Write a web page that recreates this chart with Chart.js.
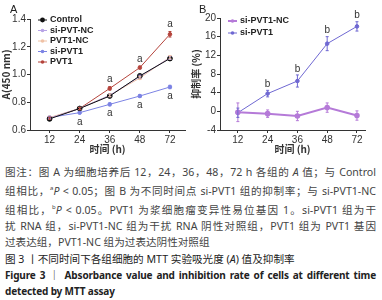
<!DOCTYPE html>
<html>
<head>
<meta charset="utf-8">
<script src="https://cdn.jsdelivr.net/npm/chart.js@4"></script>
<style>
  body { margin: 0; width: 382px; height: 300px; background: #fff; position: relative; overflow: hidden; }
  .panel { position: absolute; top: 0; height: 155px; }
  .plabel { position: absolute; top: 3px; font: 11px "Liberation Sans", Arial, sans-serif; color: #222; }
  #caption { position: absolute; left: 5px; top: 164px; width: 371px; font-family: "Noto Sans", "Noto Sans CJK SC", sans-serif; font-size: 10.6px; line-height: 16.3px; color: #444; }
  #caption div { white-space: nowrap; }
  #caption .j { text-align: justify; text-align-last: justify; white-space: normal; }
  #caption .fig { color: #222; }
  #caption .en { color: #222; font-weight: bold; font-size: 10px; letter-spacing: -0.15px; }
</style>
</head>
<body>
<div class="panel" style="left:0;width:190px"><canvas id="chartA" width="190" height="155"></canvas></div>
<div class="panel" style="left:190px;width:192px"><canvas id="chartB" width="192" height="155"></canvas></div>
<div class="plabel" style="left:10px">A</div>
<div class="plabel" style="left:199px">B</div>
<div id="caption">
  <div class="j">图注：图 A 为细胞培养后 12，24，36，48，72 h 各组的 <i>A</i> 值；与 Control</div>
  <div class="j">组相比，<sup style="font-size:6px">a</sup><i>P</i> &lt; 0.05；图 B 为不同时间点 si-PVT1 组的抑制率；与 si-PVT1-NC</div>
  <div class="j">组相比，<sup style="font-size:6px">b</sup><i>P</i> &lt; 0.05。PVT1 为浆细胞瘤变异性易位基因 1。si-PVT1 组为干</div>
  <div class="j">扰 RNA 组，si-PVT1-NC 组为干扰 RNA 阴性对照组，PVT1 组为 PVT1 基因</div>
  <div>过表达组，PVT1-NC 组为过表达阴性对照组</div>
  <div class="fig">图 3 丨不同时间下各组细胞的 MTT 实验吸光度 (<i>A</i>) 值及抑制率</div>
  <div class="j en">Figure 3 ｜ Absorbance value and inhibition rate of cells at different time</div>
  <div class="en">detected by MTT assay</div>
</div>
<script>
// categories (hours)
const hours = ["12", "24", "36", "48", "72"];

// Panel A: absorbance
const controlA = [0.68, 0.755, 0.845, 0.99, 1.115];
const siNcA = [0.685, 0.755, 0.85, 0.985, 1.12];
const pvtNcA = [0.69, 0.755, 0.85, 0.975, 1.125];
const siPvtA = [0.69, 0.725, 0.785, 0.845, 0.91];
const pvtA = [0.685, 0.755, 0.9, 1.05, 1.29];
const errSmallA = [0.008, 0.008, 0.01, 0.01, 0.012];
const errPvtA = [0.008, 0.008, 0.012, 0.01, 0.02];
const ticksA = [0.6, 0.8, 1.0, 1.2, 1.4];
const sigAboveA = [2, 3, 4]; // "a" above PVT1
const sigBelowA = [1, 2, 3, 4]; // "a" below si-PVT1

// Panel B: inhibition rate (%)
const ncB = [-0.2, -0.5, -1.0, 0.8, -0.9];
const errNcB = [2.0, 0.8, 1.0, 1.0, 1.0];
const siB = [-0.3, 3.8, 6.5, 14.5, 18.2];
const errSiB = [1.0, 0.7, 1.3, 1.5, 1.0];
const ticksB = [-4, 0, 4, 8, 12, 16, 20];
const sigAboveB = [1, 2, 3, 4]; // "b" above si-PVT1

const tickFont = { family: "Liberation Sans, Arial, sans-serif", size: 10 };
const titleFont = { family: "Noto Sans CJK SC, Liberation Sans, sans-serif", size: 10, weight: "bold" };

function pts(arr) {
  return arr.map(function (v, i) { return { x: i, y: v }; });
}

function series(label, data, color, opts) {
  return Object.assign({
    label: label,
    data: pts(data),
    borderColor: color,
    backgroundColor: color,
    pointBorderColor: color,
    pointBackgroundColor: color,
    borderWidth: 1,
    pointRadius: 1.8,
    pointStyle: "circle",
  }, opts || {});
}

// error bars drawn from each dataset's "errors" array
const errorBars = {
  id: "errorBars",
  afterDatasetsDraw(chart) {
    const ctx = chart.ctx;
    const ys = chart.scales.y;
    chart.data.datasets.forEach(function (ds, di) {
      if (!ds.errors) return;
      const meta = chart.getDatasetMeta(di);
      ctx.save();
      ctx.strokeStyle = ds.borderColor;
      ctx.lineWidth = 1;
      meta.data.forEach(function (pt, i) {
        const v = ds.data[i].y;
        const e = ds.errors[i];
        const y1 = ys.getPixelForValue(v + e);
        const y2 = ys.getPixelForValue(v - e);
        ctx.beginPath();
        ctx.moveTo(pt.x, y1); ctx.lineTo(pt.x, y2);
        ctx.moveTo(pt.x - 1.5, y1); ctx.lineTo(pt.x + 1.5, y1);
        ctx.moveTo(pt.x - 1.5, y2); ctx.lineTo(pt.x + 1.5, y2);
        ctx.stroke();
      });
      ctx.restore();
    });
  },
};

// significance letters placed relative to a dataset's points
const sigMarks = {
  id: "sigMarks",
  afterDatasetsDraw(chart, args, opts) {
    const ctx = chart.ctx;
    const xs = chart.scales.x;
    const ys = chart.scales.y;
    ctx.save();
    ctx.font = "10px Liberation Sans, Arial, sans-serif";
    ctx.fillStyle = "#333";
    ctx.textAlign = "center";
    ctx.textBaseline = "middle";
    (opts.marks || []).forEach(function (m) {
      const ds = chart.data.datasets[m.dataset];
      m.idx.forEach(function (i) {
        const v = ds.data[i].y;
        const e = ds.errors ? ds.errors[i] : 0;
        const y = m.above ? ys.getPixelForValue(v + e) - m.gap : ys.getPixelForValue(v - e) + m.gap;
        ctx.fillText(m.text, xs.getPixelForValue(i), y);
      });
    });
    ctx.restore();
  },
};

// small legend drawn inside the plot area
const innerLegend = {
  id: "innerLegend",
  afterDraw(chart, args, opts) {
    const ctx = chart.ctx;
    const left = chart.chartArea.left + opts.dx;
    let y = chart.chartArea.top + opts.dy;
    ctx.save();
    ctx.font = "bold 9px Liberation Sans, Arial, sans-serif";
    ctx.textBaseline = "middle";
    chart.data.datasets.forEach(function (ds) {
      ctx.strokeStyle = ds.borderColor;
      ctx.lineWidth = ds.borderWidth;
      ctx.beginPath();
      ctx.moveTo(left, y); ctx.lineTo(left + 9, y);
      ctx.stroke();
      ctx.fillStyle = ds.borderColor;
      ctx.beginPath();
      ctx.arc(left + 4.5, y, ds.pointRadius, 0, Math.PI * 2);
      ctx.fill();
      ctx.fillStyle = "#222";
      ctx.fillText(ds.label, left + 12, y);
      y += opts.row;
    });
    ctx.restore();
  },
};

function xAxis(min, max) {
  return {
    type: "linear",
    min: min,
    max: max,
    afterBuildTicks(s) { s.ticks = hours.map(function (h, i) { return { value: i }; }); },
    afterFit(s) { s.height = 25; },
    ticks: { font: tickFont, color: "#333", padding: 1, callback: function (v) { return hours[v]; } },
    grid: { display: true, drawOnChartArea: false, drawTicks: true, tickLength: 3, color: "#333" },
    border: { display: true, color: "#333", width: 1 },
    title: { display: true, text: "时间 (h)", font: titleFont, color: "#333", padding: 0 },
  };
}

function yAxis(min, max, tickVals, title, digits) {
  return {
    min: min,
    max: max,
    afterBuildTicks(s) { s.ticks = tickVals.map(function (v) { return { value: v }; }); },
    afterFit(s) { s.width = 30; },
    ticks: { font: tickFont, color: "#333", padding: 1, callback: function (v) { return v.toFixed(digits); } },
    grid: { display: true, drawOnChartArea: false, drawTicks: true, tickLength: 3, color: "#333" },
    border: { display: true, color: "#333", width: 1 },
    title: { display: true, text: title, font: titleFont, color: "#333", padding: 0 },
  };
}

const chartA = new Chart(document.getElementById("chartA"), {
  type: "line",
  data: {
    datasets: [
      series("Control", controlA, "#111111", { pointRadius: 2.4, errors: errSmallA }),
      series("si-PVT-NC", siNcA, "#b7a3e6", { errors: errSmallA }),
      series("PVT1-NC", pvtNcA, "#f0c2a6", { errors: errSmallA }),
      series("si-PVT1", siPvtA, "#7c83e4", { errors: errSmallA }),
      series("PVT1", pvtA, "#b5443c", { errors: errPvtA }),
    ],
  },
  options: {
    responsive: false,
    animation: false,
    layout: { padding: { top: 19, right: 3, left: 0, bottom: 0 } },
    plugins: {
      legend: { display: false },
      tooltip: { enabled: false },
      innerLegend: { dx: 8, dy: 1, row: 10.5 },
      sigMarks: {
        marks: [
          { dataset: 4, idx: sigAboveA, above: true, text: "a", gap: 7 },
          { dataset: 3, idx: sigBelowA, above: false, text: "a", gap: 8 },
        ],
      },
    },
    scales: {
      x: xAxis(-0.65, 4.5),
      y: yAxis(0.6, 1.4, ticksA, "A(450 nm)", 1),
    },
  },
  plugins: [errorBars, sigMarks, innerLegend],
});

const chartB = new Chart(document.getElementById("chartB"), {
  type: "line",
  data: {
    datasets: [
      series("si-PVT1-NC", ncB, "#b57ad8", { borderWidth: 2, errors: errNcB }),
      series("si-PVT1", siB, "#6f68d2", { errors: errSiB }),
    ],
  },
  options: {
    responsive: false,
    animation: false,
    layout: { padding: { top: 18, right: 17, left: 0, bottom: 0 } },
    plugins: {
      legend: { display: false },
      tooltip: { enabled: false },
      innerLegend: { dx: 8, dy: 3, row: 12 },
      sigMarks: {
        marks: [{ dataset: 1, idx: sigAboveB, above: true, text: "b", gap: 6 }],
      },
    },
    scales: {
      x: xAxis(-0.6, 4.27),
      y: yAxis(-4, 20, ticksB, "抑制率 (%)", 0),
    },
  },
  plugins: [errorBars, sigMarks, innerLegend],
});
</script>
</body>
</html>
